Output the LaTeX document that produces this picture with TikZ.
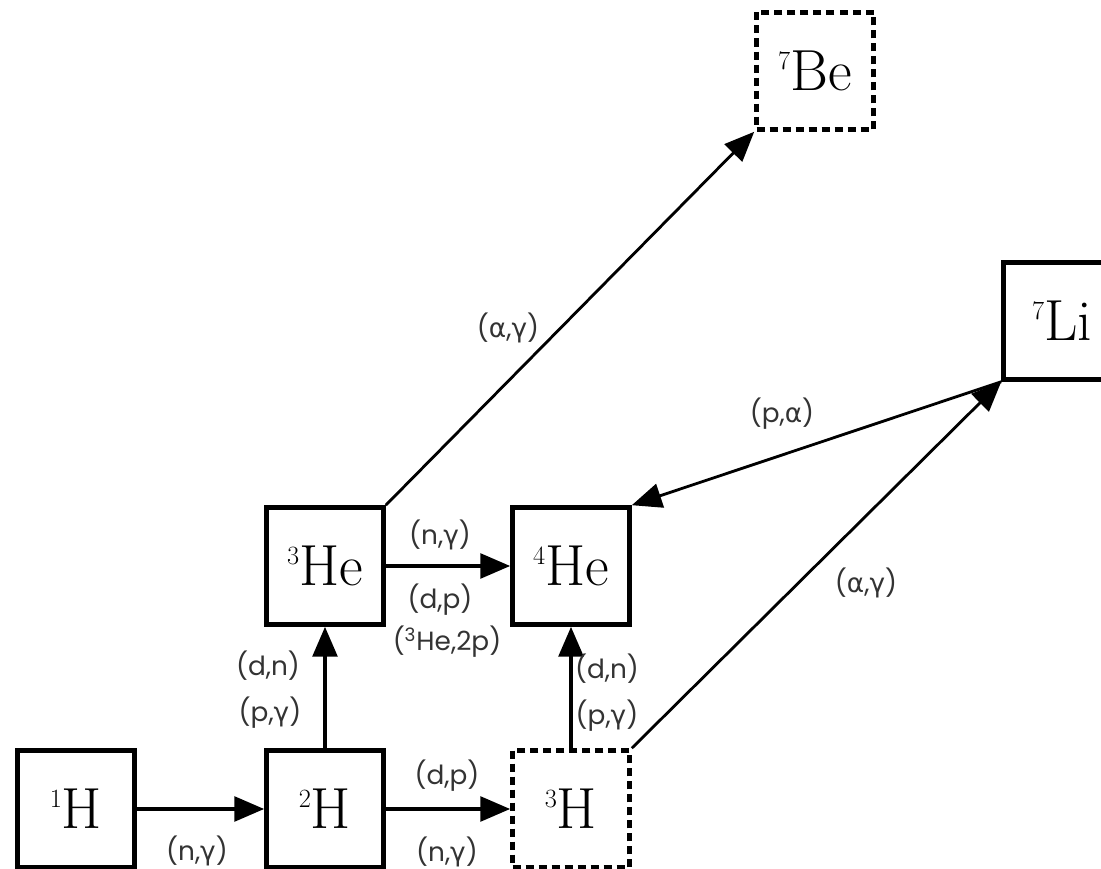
\documentclass[tikz,border=0pt]{standalone}
\usepackage{fontspec}
\newfontfamily\labelfont{Poppins}
\newfontfamily\greekfont{DejaVu Sans}
\newcommand{\rgam}{{\greekfont γ}}
\newcommand{\ralp}{{\greekfont α}}
\newcommand{\iso}[2]{\raisebox{12pt}{\fontsize{15}{15}\selectfont #1}#2}
\usepackage{tikz}
\usetikzlibrary{arrows.meta}

\begin{document}
\begin{tikzpicture}[
    nucl/.style={draw, line width=2.6pt, minimum size=2.34cm, inner sep=0pt,
      font=\fontsize{33}{36}\selectfont},
    unstable/.style={nucl, dash pattern=on 0.16cm off 0.1cm},
    react/.style={line width=2.2pt, -{Triangle[length=17pt,width=14pt]}},
    diag/.style={react, line width=1.6pt},
    lbl/.style={text=black!80, font=\labelfont\fontsize{15}{17}\selectfont}
  ]
      \useasboundingbox (0cm,0cm) rectangle (22.02cm,17.38cm);

      % nuclei
      \node[nucl] (h1) at (1.52cm,1.2cm) {\iso{1}{H}};
      \node[nucl] (h2) at (6.5cm,1.2cm) {\iso{2}{H}};
      \node[unstable] (h3) at (11.42cm,1.2cm) {\iso{3}{H}};
      \node[nucl] (he3) at (6.5cm,6.06cm) {\iso{3}{He}};
      \node[nucl] (he4) at (11.42cm,6.06cm) {\iso{4}{He}};
      \node[unstable] (be7) at (16.3cm,15.96cm) {\iso{7}{Be}};
      \node[nucl] (li7) at (21.24cm,10.96cm) {\iso{7}{Li}};

      % reactions
      \draw[react] (h1) -- (h2);
      \draw[react] (h2) -- (h3);
      \draw[react] (h2) -- (he3);
      \draw[react] (he3) -- (he4);
      \draw[react] (h3) -- (he4);
      \draw[diag] (he3.north east) -- (be7.south west);
      \draw[diag] (h3.north east) -- (li7.south west);
      \draw[diag] (li7.south west) -- (he4.north east);

      % labels
      \node[lbl] (l12) at (3.94cm,0.36cm) {(n,\rgam)};
      \node[lbl] (l23a) at (8.94cm,1.86cm) {(d,p)};
      \node[lbl] (l23b) at (8.94cm,0.34cm) {(n,\rgam)};
      \node[lbl] (l2he3a) at (5.36cm,4.06cm) {(d,n)};
      \node[lbl] (l2he3b) at (5.4cm,3.12cm) {(p,\rgam)};
      \node[lbl] (lhe34a) at (8.8cm,6.68cm) {(n,\rgam)};
      \node[lbl] (lhe34b) at (8.8cm,5.38cm) {(d,p)};
      \node[lbl] (lhe34c) at (8.94cm,4.54cm) {(\textsuperscript{3}He,2p)};
      \node[lbl] (l3he4a) at (12.14cm,4cm) {(d,n)};
      \node[lbl] (l3he4b) at (12.14cm,3.06cm) {(p,\rgam)};
      \node[lbl] (lbe) at (10.16cm,10.82cm) {(\ralp,\rgam)};
      \node[lbl] (lpa) at (15.64cm,9.1cm) {(p,\ralp)};
      \node[lbl] (lli) at (17.32cm,5.72cm) {(\ralp,\rgam)};
\end{tikzpicture}
\end{document}
